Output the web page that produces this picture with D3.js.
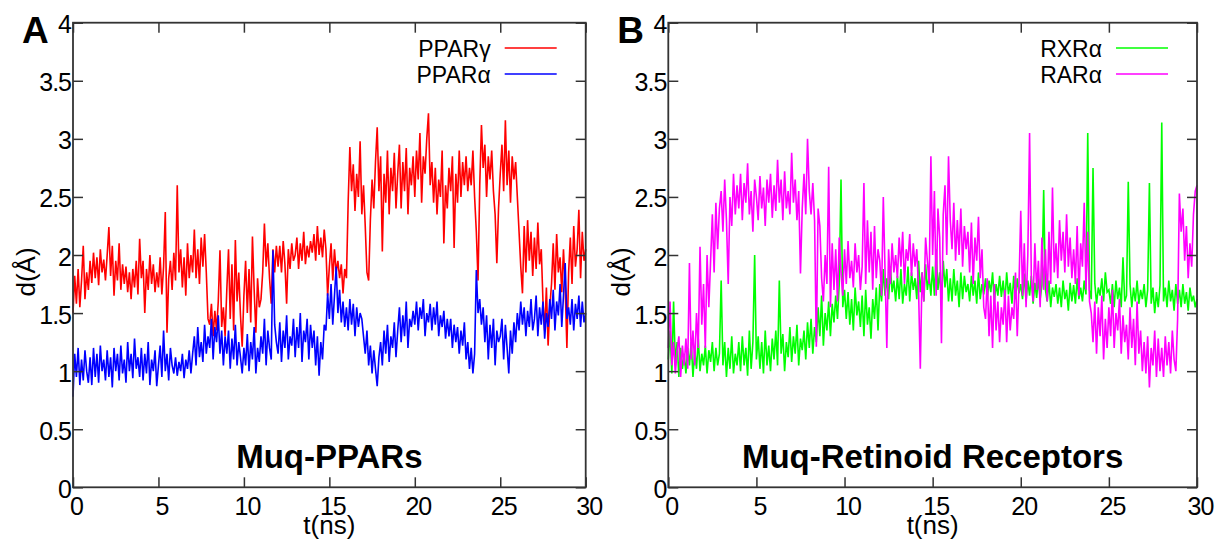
<!DOCTYPE html>
<html>
<head>
<meta charset="utf-8">
<script src="https://cdn.jsdelivr.net/npm/d3@7"></script>
<style>
  body { margin: 0; background: #fff; }
  text { font-family: "Liberation Sans", Arial, sans-serif; }
</style>
</head>
<body>
<div id="chart"></div>
<script>
// values, one row per ns (step 0.1 ns), last value at t = 30
var pparG = [
  1.50,1.82,1.58,1.88,1.55,1.78,2.08,1.62,1.85,1.70,
  1.95,1.76,2.02,1.80,1.98,1.74,2.05,1.85,1.96,1.78,
  2.00,2.24,1.82,2.08,1.65,1.95,1.78,2.10,1.70,1.92,
  1.75,1.90,1.68,1.85,1.62,1.88,1.72,1.95,1.66,2.14,
  1.80,1.95,1.50,1.88,1.70,2.00,1.75,1.92,1.68,1.85,
  1.72,1.98,1.66,1.90,2.37,1.33,1.80,1.95,1.70,2.02,
  1.78,2.60,1.85,2.05,1.72,1.98,1.65,2.10,1.80,2.00,
  1.85,2.22,1.80,2.05,1.75,2.15,1.90,2.18,1.85,1.45,
  1.40,1.58,1.30,1.52,1.35,1.60,2.04,1.38,1.55,1.30,
  1.70,2.05,1.45,1.92,1.35,2.13,1.60,1.85,1.48,1.21,
  1.65,1.95,1.50,1.88,1.42,2.16,1.70,1.33,1.80,1.55,
  1.62,1.85,2.27,1.90,2.10,1.80,1.58,2.05,1.85,2.08,
  1.90,2.08,1.85,2.12,1.92,1.58,2.05,1.88,2.10,1.95,
  2.00,2.15,1.88,2.10,1.95,2.20,1.92,2.08,1.98,2.12,
  2.02,2.18,1.95,2.25,2.00,2.15,1.98,2.22,2.05,1.65,
  1.90,2.10,1.78,2.05,1.85,1.95,1.80,1.92,1.67,1.88,
  1.80,2.45,2.93,2.55,2.78,2.38,2.70,2.50,2.98,2.35,
  2.60,2.25,1.85,1.78,2.30,2.65,2.40,2.80,3.10,2.55,
  2.85,2.03,2.70,2.45,2.90,2.35,2.75,2.55,2.88,2.40,
  2.70,2.95,2.40,2.80,2.55,2.92,2.35,2.75,2.60,2.85,
  2.50,2.90,2.65,3.05,2.45,2.85,2.70,3.00,3.22,2.60,
  2.80,2.45,2.75,2.35,2.65,2.50,2.90,2.10,2.60,2.40,
  2.75,2.55,2.85,2.06,2.70,2.45,2.90,2.50,2.80,2.60,
  2.85,2.55,2.75,2.60,2.90,2.50,2.20,1.78,2.60,3.12,
  2.75,2.95,2.50,2.85,2.65,2.90,2.55,2.35,1.93,2.40,
  2.70,2.95,2.55,3.16,2.60,2.90,2.45,2.85,2.65,2.80,
  2.50,2.20,1.90,1.67,2.25,1.85,2.30,1.95,2.20,1.82,
  2.15,1.88,2.28,1.92,2.05,1.60,1.35,1.72,1.22,1.55,
  1.75,2.10,1.70,2.18,1.85,1.98,1.68,2.05,1.72,1.20,
  1.85,2.15,1.75,2.25,1.90,2.05,2.39,1.80,2.20,1.95,
  2.05
];

var pparA = [
  0.78,1.15,0.95,1.20,0.88,1.10,0.92,1.18,1.00,0.90,
  1.12,0.88,1.20,0.95,1.15,0.90,1.22,1.00,1.10,0.92,
  1.18,0.95,1.12,0.86,1.20,1.00,1.15,0.92,1.22,0.98,
  1.10,0.90,1.25,1.00,1.15,0.94,1.28,1.02,1.12,0.95,
  1.20,0.92,1.15,0.98,1.25,0.88,1.10,1.00,1.18,0.87,
  1.05,1.22,0.95,1.35,1.00,1.15,0.92,1.20,1.05,0.98,
  1.12,0.96,1.08,1.00,1.15,0.94,1.10,1.02,1.18,0.98,
  1.15,1.30,1.05,1.38,1.12,1.25,1.08,1.40,1.15,1.30,
  1.20,1.45,1.10,1.38,1.25,1.48,1.15,1.35,1.05,1.30,
  1.15,1.35,1.02,1.28,1.10,1.40,1.05,1.25,1.12,0.98,
  1.20,1.05,1.32,1.00,1.25,1.10,1.38,0.98,1.20,1.08,
  1.30,1.15,1.45,1.05,1.35,1.20,1.10,2.04,1.40,1.25,
  1.15,1.42,1.08,1.35,1.20,1.48,1.10,1.30,1.22,1.45,
  1.12,1.38,1.20,1.50,1.08,1.35,1.25,1.45,1.10,1.40,
  1.20,1.35,1.05,1.30,0.96,1.25,1.10,1.40,1.35,1.67,
  1.45,1.75,1.40,1.65,1.90,1.50,1.70,1.42,1.60,1.38,
  1.55,1.35,1.62,1.40,1.58,1.30,1.55,1.38,1.50,1.45,
  1.30,1.15,1.35,1.05,1.22,0.98,1.18,1.02,0.87,1.12,
  1.25,1.05,1.35,1.15,1.40,1.08,1.30,1.20,1.42,1.12,
  1.35,1.55,1.25,1.48,1.30,1.60,1.20,1.45,1.38,1.52,
  1.40,1.60,1.35,1.55,1.45,1.62,1.30,1.50,1.42,1.58,
  1.35,1.55,1.40,1.60,1.30,1.48,1.38,1.52,1.28,1.45,
  1.30,1.45,1.20,1.40,1.25,1.38,1.15,1.35,1.22,1.42,
  1.10,1.25,1.02,1.20,0.98,1.15,1.87,1.50,1.62,1.40,
  1.55,1.25,1.48,1.10,1.40,1.20,1.45,1.05,1.35,1.25,
  1.30,1.45,1.10,1.40,1.20,0.98,1.35,1.15,1.42,1.25,
  1.50,1.35,1.60,1.40,1.55,1.30,1.52,1.38,1.62,1.35,
  1.45,1.65,1.30,1.55,1.40,1.60,1.28,1.50,1.38,1.62,
  1.45,1.70,1.35,1.60,1.48,1.75,1.38,1.65,1.93,1.45,
  1.55,1.40,1.62,1.35,1.58,1.45,1.65,1.38,1.60,1.42,
  1.50
];

var rxrA = [
  1.10,1.35,0.98,1.60,1.05,1.25,0.95,1.20,1.02,1.15,
  0.98,1.20,1.05,1.25,0.95,1.18,1.02,1.28,1.00,1.15,
  1.05,1.22,0.98,1.18,1.08,1.25,1.00,1.20,1.05,1.15,
  1.78,1.05,1.25,0.95,1.20,1.02,1.30,0.98,1.15,1.05,
  1.25,1.00,1.30,1.05,1.20,0.96,1.35,1.02,1.25,2.00,
  1.10,1.30,1.02,1.25,0.98,1.35,1.05,1.22,1.00,1.28,
  1.10,1.35,1.05,1.78,1.15,1.32,1.00,1.25,1.12,1.38,
  1.08,1.30,1.15,1.40,1.05,1.28,1.18,1.35,1.10,1.42,
  1.20,1.45,1.15,1.38,1.25,1.55,1.30,1.65,1.22,1.50,
  1.35,1.60,1.30,1.58,1.42,1.65,1.45,1.75,2.65,1.55,
  1.70,1.45,1.68,1.40,1.62,1.35,1.72,1.48,1.60,1.38,
  1.65,1.30,1.70,1.40,1.55,1.28,1.62,1.45,1.72,1.35,
  1.75,1.60,1.88,1.65,1.80,1.62,1.90,1.68,1.78,1.60,
  1.82,1.62,1.88,1.58,1.75,1.65,1.90,1.60,1.85,1.70,
  1.80,1.62,1.95,1.68,1.85,1.60,1.92,1.70,1.82,1.65,
  1.90,1.65,2.05,1.70,1.85,1.62,1.95,1.72,1.88,1.60,
  1.80,1.60,1.88,1.65,1.78,1.55,1.85,1.62,1.82,1.68,
  1.75,1.60,1.82,1.65,1.78,1.58,1.85,1.62,1.75,1.66,
  1.80,1.62,1.78,1.68,1.85,1.60,1.75,1.65,1.82,1.64,
  1.78,1.60,1.85,1.66,1.76,1.58,1.82,1.62,1.80,1.67,
  1.75,1.62,1.84,1.60,1.78,1.65,1.82,1.58,1.76,1.63,
  1.80,1.62,1.74,2.56,1.70,1.60,1.78,1.55,1.72,1.64,
  1.75,1.58,1.72,1.55,1.78,1.62,1.70,1.52,1.76,1.60,
  1.74,1.58,1.80,1.62,1.72,1.60,1.78,1.66,3.05,1.70,
  1.62,2.75,1.76,1.58,1.72,1.65,1.80,1.60,1.85,1.68,
  1.70,1.58,1.75,1.55,1.78,1.62,1.72,1.55,1.98,1.60,
  1.65,2.63,1.75,1.55,1.72,1.60,1.78,1.58,1.70,1.62,
  1.75,1.55,1.70,2.62,1.58,1.72,1.50,1.68,1.55,1.74,
  3.14,1.60,1.72,1.55,1.78,1.60,1.70,1.52,1.75,1.58,
  1.70,1.55,1.75,1.58,1.68,1.52,1.72,1.60,1.65,1.55,
  1.62
];

var rarA = [
  1.20,1.60,1.05,1.25,0.98,1.18,1.30,0.95,1.22,1.05,
  1.28,1.02,1.93,1.10,1.35,1.05,1.50,1.20,2.07,1.40,
  1.75,1.20,2.00,1.55,1.95,2.35,1.85,2.45,2.05,2.40,
  2.55,2.20,2.65,2.30,1.75,2.50,2.25,2.70,2.35,2.60,
  2.40,2.70,2.30,2.62,2.45,2.79,2.35,2.55,2.20,2.65,
  2.50,2.30,2.68,2.40,2.58,2.25,2.65,2.45,2.70,2.32,
  2.60,2.38,2.82,2.45,2.65,2.30,2.72,2.40,2.55,2.35,
  2.88,2.45,2.65,2.30,2.55,1.84,2.40,2.70,2.35,3.00,
  2.55,2.35,2.62,2.30,1.21,2.40,2.25,1.80,1.60,2.00,
  1.75,2.76,1.55,2.10,1.70,2.05,1.60,2.15,1.85,1.65,
  2.05,1.75,2.12,1.80,1.95,1.72,2.10,1.85,2.00,1.70,
  1.90,2.62,1.75,2.30,1.85,2.20,1.70,2.25,1.80,2.05,
  1.95,1.65,2.50,1.85,1.20,2.05,1.75,2.10,1.85,2.00,
  1.80,2.15,1.90,2.20,1.75,2.05,1.95,2.18,1.82,2.10,
  1.90,2.05,1.70,1.02,1.85,1.60,2.15,1.95,1.75,2.85,
  2.00,2.55,1.65,2.40,2.15,1.24,2.35,2.60,2.00,2.85,
  2.30,2.05,2.45,1.95,2.30,2.00,2.40,1.90,2.25,2.05,
  2.20,1.85,2.28,1.75,2.15,1.95,2.33,1.80,2.05,1.55,
  1.45,1.80,1.30,1.65,1.20,1.75,1.35,1.60,1.25,1.55,
  1.40,1.70,1.25,1.65,1.35,1.55,1.45,1.85,1.30,1.75,
  2.38,1.65,2.10,1.55,2.00,3.05,1.80,1.60,2.10,1.70,
  1.95,1.55,2.15,1.70,2.05,1.60,2.20,1.75,2.58,1.85,
  2.10,1.80,2.30,1.95,2.20,1.85,2.35,1.90,2.15,1.80,
  2.05,1.75,2.25,1.65,2.10,1.90,2.45,1.70,2.20,1.60,
  1.50,1.25,1.60,1.15,1.55,1.30,1.65,1.10,1.45,1.20,
  1.55,1.30,1.70,1.20,1.50,1.35,1.62,1.15,1.48,1.25,
  1.40,1.10,1.55,1.20,1.45,1.05,1.60,1.15,1.35,1.00,
  1.25,0.98,1.30,0.86,1.20,1.05,1.35,0.95,1.28,1.00,
  1.20,0.95,1.30,1.05,1.25,0.98,1.35,1.10,1.00,1.45,
  2.53,2.20,2.40,1.95,2.25,1.80,2.10,1.90,2.35,2.55,
  2.60
];

var xTicks = [0, 5, 10, 15, 20, 25, 30];
var yTicks = [0, 0.5, 1, 1.5, 2, 2.5, 3, 3.5, 4];

var panels = [
  { letter: "A", title: "Muq-PPARs", left: 73, right: 585.7,
    names: ["PPARγ", "PPARα"], series: [pparG, pparA], colors: ["#ff0000", "#0000ff"] },
  { letter: "B", title: "Muq-Retinoid Receptors", left: 668.3, right: 1197,
    names: ["RXRα", "RARα"], series: [rxrA, rarA], colors: ["#00ff00", "#ff00ff"] }
];

var width = 1217;
var height = 539;
var plotTop = 22.7, plotBottom = 487.3;

var svg = d3.select("#chart")
  .append("svg")
  .attr("width", width)
  .attr("height", height);

panels.forEach(function(p) {
  var x = d3.scaleLinear().domain([0, 30]).range([p.left, p.right]);
  var y = d3.scaleLinear().domain([0, 4]).range([plotBottom, plotTop]);

  var g = svg.append("g");

  // data lines
  p.series.forEach(function(vals, k) {
    var line = d3.line()
      .x(function(d, i) { return x(i / 10); })
      .y(function(d) { return y(d); });
    g.append("path")
      .datum(vals)
      .attr("d", line)
      .attr("fill", "none")
      .attr("stroke", p.colors[k])
      .attr("stroke-width", 1.6)
      .attr("stroke-linejoin", "miter");
  });

  // axes, ticks pointing inward
  var bottomAxis = d3.axisBottom(x).tickValues(xTicks).tickSize(-10).tickPadding(10);
  var leftAxis = d3.axisLeft(y).tickValues(yTicks).tickSize(-10).tickPadding(2).tickFormat(d3.format("~g"));
  var topAxis = d3.axisTop(x).tickValues(xTicks).tickSize(-10).tickFormat("");
  var rightAxis = d3.axisRight(y).tickValues(yTicks).tickSize(-10).tickFormat("");

  var ax = [
    g.append("g").attr("transform", "translate(0," + plotBottom + ")").call(bottomAxis),
    g.append("g").attr("transform", "translate(" + p.left + ",0)").call(leftAxis),
    g.append("g").attr("transform", "translate(0," + plotTop + ")").call(topAxis),
    g.append("g").attr("transform", "translate(" + p.right + ",0)").call(rightAxis)
  ];
  ax.forEach(function(a) {
    a.select(".domain").remove();
    a.selectAll(".tick line").attr("stroke", "#333").attr("stroke-width", 1.5);
    a.selectAll("text")
      .attr("fill", "#000")
      .style("font-size", "25px")
      .style("letter-spacing", "-1px")
      .style("font-family", "'Liberation Sans', Arial, sans-serif");
  });
  ax[0].selectAll("text").attr("dx", 3);
  ax[1].selectAll("text").attr("dy", "0.4em");

  g.append("rect")
    .attr("x", p.left)
    .attr("y", plotTop)
    .attr("width", p.right - p.left)
    .attr("height", plotBottom - plotTop)
    .attr("fill", "none")
    .attr("stroke", "#333")
    .attr("stroke-width", 1.8);

  // axis titles
  g.append("text")
    .attr("x", (p.left + p.right) / 2)
    .attr("y", 534)
    .attr("text-anchor", "middle")
    .style("font-size", "26px")
    .text("t(ns)");

  g.append("text")
    .attr("transform", "translate(" + (p.left - 38) + ",272) rotate(-90)")
    .attr("text-anchor", "middle")
    .style("font-size", "26px")
    .text("d(Å)");

  // panel letter
  g.append("text")
    .attr("x", p.left - 51)
    .attr("y", 43)
    .style("font-size", "37px")
    .style("font-weight", "bold")
    .text(p.letter);

  // panel title
  g.append("text")
    .attr("x", (p.left + p.right) / 2)
    .attr("y", 468)
    .attr("text-anchor", "middle")
    .style("font-size", "33px")
    .style("font-weight", "bold")
    .text(p.title);

  // legend
  var legX = p.right - 81;
  p.names.forEach(function(name, k) {
    var ly = 48 + k * 26;
    g.append("text")
      .attr("x", legX - 14)
      .attr("y", ly + 9)
      .attr("text-anchor", "end")
      .style("font-size", "23px")
      .text(name);
    g.append("line")
      .attr("x1", legX)
      .attr("x2", legX + 52)
      .attr("y1", ly)
      .attr("y2", ly)
      .attr("stroke", p.colors[k])
      .attr("stroke-width", 1.5);
  });
});
</script>
</body>
</html>
